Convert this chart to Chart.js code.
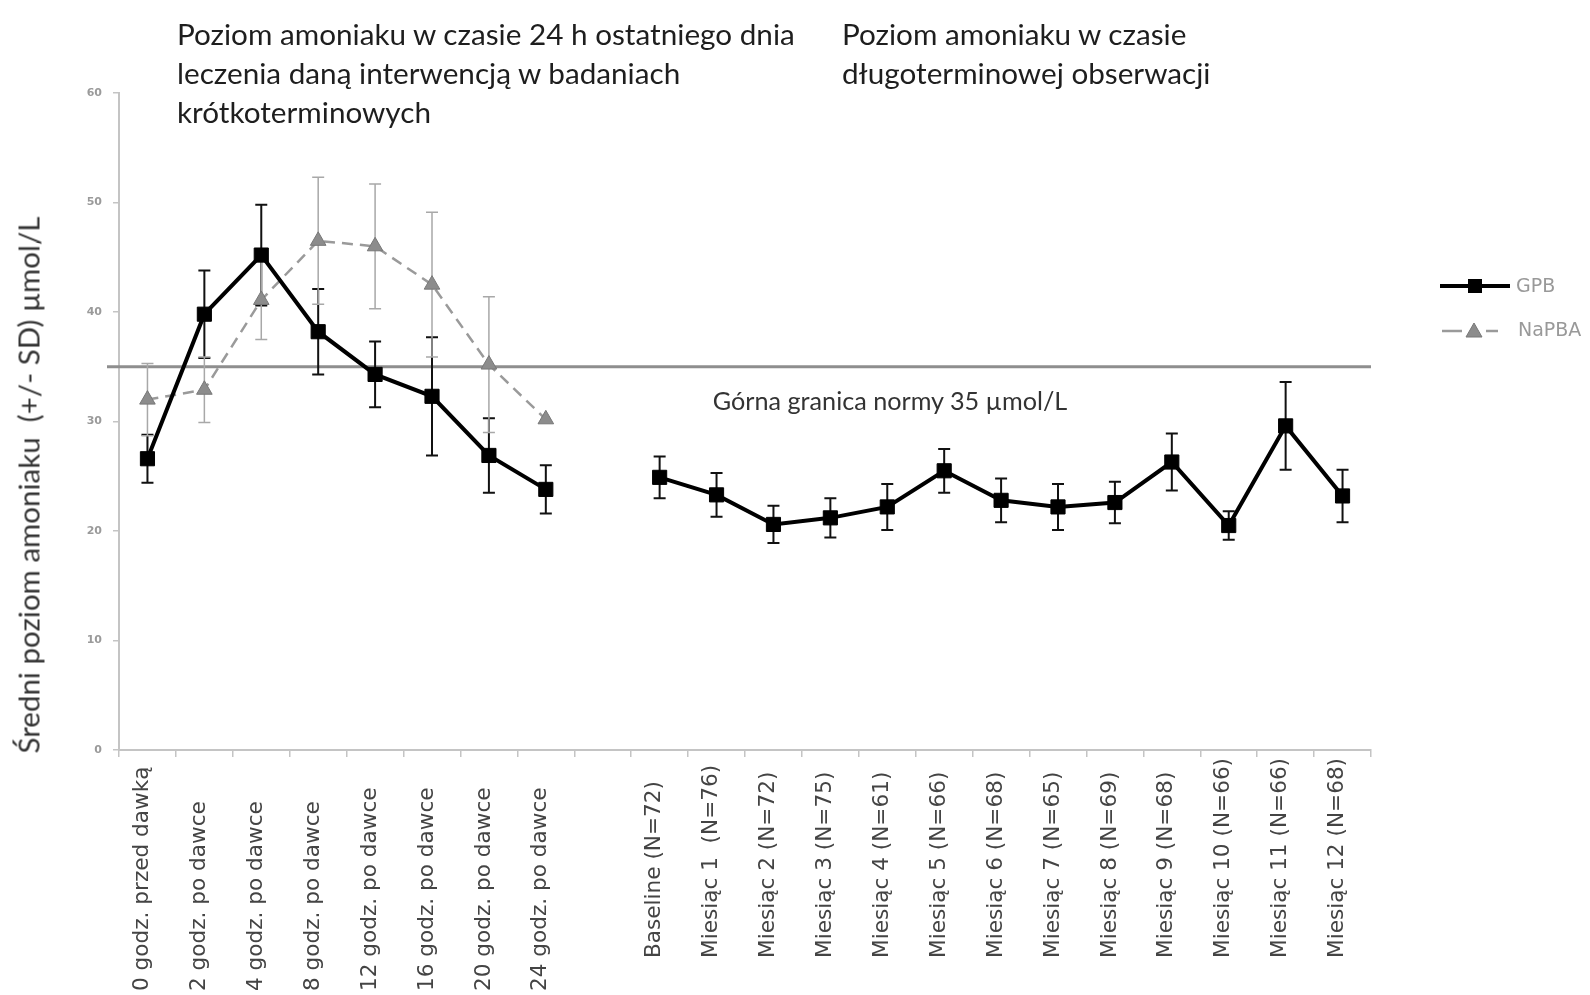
<!DOCTYPE html>
<html lang="pl">
<head>
<meta charset="utf-8">
<title>Poziom amoniaku</title>
<script src="https://cdn.jsdelivr.net/npm/chart.js@4.4.1/dist/chart.umd.min.js"></script>
<style>
  html, body { margin: 0; padding: 0; background: #fff; }
  #wrap { position: relative; width: 1590px; height: 995px; overflow: hidden; }
  #chart { position: absolute; left: 0; top: 0; }
  .note { position: absolute; font-family: Lato, "Open Sans", sans-serif; color: #1e1e1e; white-space: nowrap; }
  #titleShort { left: 177px; top: 14px; font-size: 29.7px; line-height: 39px; }
  #titleLong { left: 842px; top: 14px; font-size: 29.7px; line-height: 39px; }
  #yTitle { left: 28px; top: 485px; font-size: 29.5px; color: #333; transform: translate(-50%, -50%) rotate(-90deg); }
  #limitLabel { left: 890px; top: 400px; font-size: 25.2px; color: #333; transform: translate(-50%, -50%); }
</style>
</head>
<body>
<div id="wrap">
  <canvas id="chart" width="1590" height="995"></canvas>
  <div class="note" id="titleShort">Poziom amoniaku w czasie 24 h ostatniego dnia<br>leczenia daną interwencją w badaniach<br>krótkoterminowych</div>
  <div class="note" id="titleLong">Poziom amoniaku w czasie<br>długoterminowej obserwacji</div>
  <div class="note" id="yTitle">Średni poziom amoniaku&nbsp; (+/- SD) µmol/L</div>
  <div class="note" id="limitLabel">Górna granica normy 35 µmol/L</div>
</div>
<script>
// Short-term study time points (last day of treatment, 24 h profile)
const shortLabels = [
  '0 godz. przed dawką', '2 godz. po dawce', '4 godz. po dawce', '8 godz. po dawce',
  '12 godz. po dawce', '16 godz. po dawce', '20 godz. po dawce', '24 godz. po dawce'
];
// Long-term follow-up visits
const longLabels = [
  'Baseline (N=72)', 'Miesiąc 1  (N=76)', 'Miesiąc 2 (N=72)', 'Miesiąc 3 (N=75)',
  'Miesiąc 4 (N=61)', 'Miesiąc 5 (N=66)', 'Miesiąc 6 (N=68)', 'Miesiąc 7 (N=65)',
  'Miesiąc 8 (N=69)', 'Miesiąc 9 (N=68)', 'Miesiąc 10 (N=66)', 'Miesiąc 11 (N=66)',
  'Miesiąc 12 (N=68)'
];

// Mean ammonia (µmol/L) and SD
const gpbShort     = [26.6, 39.8, 45.2, 38.2, 34.3, 32.3, 26.9, 23.8];
const gpbShortSD   = [2.2, 4.0, 4.6, 3.9, 3.0, 5.4, 3.4, 2.2];
const napbaShort   = [32.0, 32.9, 41.1, 46.5, 46.0, 42.5, 35.2, 30.2];
const napbaShortSD = [3.3, 3.0, 3.6, 5.8, 5.7, 6.6, 6.2, 0];
const gpbLong      = [24.9, 23.3, 20.6, 21.2, 22.2, 25.5, 22.8, 22.2, 22.6, 26.3, 20.5, 29.6, 23.2];
const gpbLongSD    = [1.9, 2.0, 1.7, 1.8, 2.1, 2.0, 2.0, 2.1, 1.9, 2.6, 1.3, 4.0, 2.4];

// Upper limit of normal
const upperLimit = 35;

// Y axis
const yMin = 0, yMax = 60, yStep = 10;

// One empty slot separates the two study phases on the category axis
const categories = [...shortLabels, '', ...longLabels];
const gap = new Array(longLabels.length + 1).fill(null);
const gpbData   = [...gpbShort, null, ...gpbLong];
const gpbSD     = [...gpbShortSD, null, ...gpbLongSD];
const napbaData = [...napbaShort, ...gap];
const napbaSD   = [...napbaShortSD, ...gap];

// Upper limit line, drawn under the series
const limitLine = {
  id: 'limitLine',
  beforeDatasetsDraw(chart) {
    const { ctx, chartArea, scales } = chart;
    const y = scales.y.getPixelForValue(upperLimit);
    ctx.save();
    ctx.strokeStyle = '#8e8e8e';
    ctx.lineWidth = 3;
    ctx.beginPath();
    ctx.moveTo(chartArea.left - 12, y);
    ctx.lineTo(chartArea.right, y);
    ctx.stroke();
    ctx.restore();
  }
};

// ±SD whiskers with caps
const errorBars = {
  id: 'errorBars',
  beforeDatasetsDraw(chart) {
    const { ctx, scales } = chart;
    chart.data.datasets.forEach((ds) => {
      const sd = ds.sd || [];
      ctx.save();
      ctx.strokeStyle = ds.errorColor;
      ctx.lineWidth = ds.errorWidth;
      ds.data.forEach((v, i) => {
        if (v == null || !sd[i]) return;
        const x = scales.x.getPixelForValue(i);
        const yTop = scales.y.getPixelForValue(v + sd[i]);
        const yBot = scales.y.getPixelForValue(v - sd[i]);
        const cap = 6;
        ctx.beginPath();
        ctx.moveTo(x, yTop); ctx.lineTo(x, yBot);
        ctx.moveTo(x - cap, yTop); ctx.lineTo(x + cap, yTop);
        ctx.moveTo(x - cap, yBot); ctx.lineTo(x + cap, yBot);
        ctx.stroke();
      });
      ctx.restore();
    });
  }
};

// Vertical category labels, read bottom-to-top
const xLabels = {
  id: 'xLabels',
  afterDraw(chart) {
    const { ctx, scales } = chart;
    const xs = scales.x;
    ctx.save();
    ctx.font = '21.6px "DejaVu Sans"';
    ctx.fillStyle = '#444';
    ctx.textAlign = 'left';
    ctx.textBaseline = 'middle';
    categories.forEach((lab, i) => {
      if (!lab) return;
      const x = xs.getPixelForValue(i) - 5;
      const yb = i < shortLabels.length ? xs.bottom - 4 : xs.bottom - 37;
      ctx.save();
      ctx.translate(x, yb);
      ctx.rotate(-Math.PI / 2);
      ctx.fillText(lab, 0, 0);
      ctx.restore();
    });
    ctx.restore();
  }
};

// Series key on the right
const seriesKey = {
  id: 'seriesKey',
  afterDraw(chart) {
    const { ctx } = chart;
    const [gpb, napba] = chart.data.datasets;
    ctx.save();
    // GPB
    ctx.strokeStyle = gpb.borderColor;
    ctx.lineWidth = gpb.borderWidth;
    ctx.beginPath(); ctx.moveTo(1440, 286); ctx.lineTo(1510, 286); ctx.stroke();
    ctx.fillStyle = gpb.pointBackgroundColor;
    ctx.fillRect(1468, 279, 14, 14);
    // NaPBA
    ctx.strokeStyle = napba.borderColor;
    ctx.lineWidth = napba.borderWidth;
    ctx.beginPath();
    ctx.moveTo(1442, 331); ctx.lineTo(1462, 331);
    ctx.moveTo(1486, 331); ctx.lineTo(1498, 331);
    ctx.stroke();
    ctx.fillStyle = napba.pointBackgroundColor;
    ctx.strokeStyle = napba.pointBorderColor;
    ctx.lineWidth = 1;
    ctx.beginPath();
    ctx.moveTo(1474, 323); ctx.lineTo(1482, 337); ctx.lineTo(1466, 337); ctx.closePath();
    ctx.fill(); ctx.stroke();
    // text
    ctx.fillStyle = '#999';
    ctx.font = '19px "DejaVu Sans"';
    ctx.textAlign = 'left';
    ctx.textBaseline = 'middle';
    ctx.fillText(gpb.label, 1516, 287);
    ctx.fillText(napba.label, 1518, 331);
    ctx.restore();
  }
};

new Chart(document.getElementById('chart'), {
  type: 'line',
  data: {
    labels: categories,
    datasets: [
      {
        label: 'GPB',
        data: gpbData,
        sd: gpbSD,
        errorColor: '#111',
        errorWidth: 2,
        borderColor: '#000',
        borderWidth: 4,
        pointStyle: 'rect',
        pointRadius: 10,
        pointBackgroundColor: '#000',
        pointBorderColor: '#000',
        pointBorderWidth: 1,
        spanGaps: false,
        tension: 0,
        clip: false,
        order: 0
      },
      {
        label: 'NaPBA',
        data: napbaData,
        sd: napbaSD,
        errorColor: '#a8a8a8',
        errorWidth: 1.5,
        borderColor: '#9a9a9a',
        borderWidth: 2.5,
        borderDash: [11, 7],
        pointStyle: 'triangle',
        pointRadius: 9,
        pointBackgroundColor: '#8c8c8c',
        pointBorderColor: '#777',
        pointBorderWidth: 1,
        spanGaps: false,
        tension: 0,
        clip: false,
        order: 1
      }
    ]
  },
  options: {
    responsive: false,
    animation: false,
    devicePixelRatio: 1,
    layout: { padding: { left: 0, right: 219, top: 93, bottom: 0 } },
    plugins: {
      legend: { display: false },
      tooltip: { enabled: false },
      title: { display: false }
    },
    scales: {
      x: {
        type: 'category',
        offset: true,
        grid: { offset: true, drawOnChartArea: false, drawTicks: true, tickLength: 7, color: '#c4c4c4', lineWidth: 1.5 },
        border: { color: '#c4c4c4', width: 2 },
        ticks: { display: false },
        afterFit(scale) { scale.height = 245; }
      },
      y: {
        min: yMin,
        max: yMax,
        grid: { drawOnChartArea: false, drawTicks: true, tickLength: 6, color: '#c4c4c4', lineWidth: 1.5 },
        border: { color: '#c4c4c4', width: 2 },
        ticks: {
          stepSize: yStep,
          padding: 11,
          color: '#9a9a9a',
          font: { family: 'DejaVu Sans', size: 11, weight: 'bold' }
        },
        afterFit(scale) { scale.width = 119; }
      }
    }
  },
  plugins: [limitLine, errorBars, xLabels, seriesKey]
});
</script>
</body>
</html>
